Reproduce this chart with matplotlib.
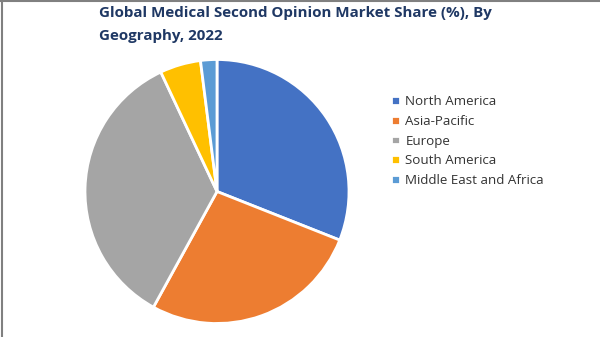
import matplotlib
matplotlib.use("Agg")
import matplotlib.pyplot as plt
from matplotlib.lines import Line2D

regions = ["North America", "Asia-Pacific", "Europe", "South America", "Middle East and Africa"]
shares = [31, 27, 35, 5, 2]
colors = ["#4472C4", "#ED7D31", "#A5A5A5", "#FFC000", "#5B9BD5"]

plt.rcParams['font.family'] = ['Open Sans', 'DejaVu Sans']

fig = plt.figure(figsize=(6, 3.37), dpi=100)
ax = fig.add_axes([85 / 600, 13.5 / 337, 264 / 600, 264 / 337])

wedges, _ = ax.pie(shares, colors=colors, startangle=90, counterclock=False,
                   wedgeprops=dict(edgecolor="white", linewidth=2))
ax.set_xlim(-1, 1)
ax.set_ylim(-1, 1)
ax.set_aspect("equal")

fig.text(99 / 600, 1 - 13 / 337, "Global Medical Second Opinion Market Share (%), By",
         fontsize=10.9, fontweight="bold", color="#1F3864", va="center", ha="left")
fig.text(99 / 600, 1 - 36 / 337, "Geography, 2022",
         fontsize=10.9, fontweight="bold", color="#1F3864", va="center", ha="left")

leg = fig.legend(wedges, regions, loc="upper left", bbox_to_anchor=(386 / 600, 1 - 90 / 337),
                 frameon=False, fontsize=9.6, handlelength=0.65, handleheight=0.65,
                 handletextpad=0.4, labelspacing=0.5, borderaxespad=0)
for t in leg.get_texts():
    t.set_color("#333333")

# border lines on top and left
fig.add_artist(Line2D([0, 1], [0.998, 0.998], color="#808080", linewidth=1.5, transform=fig.transFigure))
fig.add_artist(Line2D([0.003, 0.003], [0, 1], color="#808080", linewidth=1.5, transform=fig.transFigure))

fig.savefig("out.png", dpi=100)
